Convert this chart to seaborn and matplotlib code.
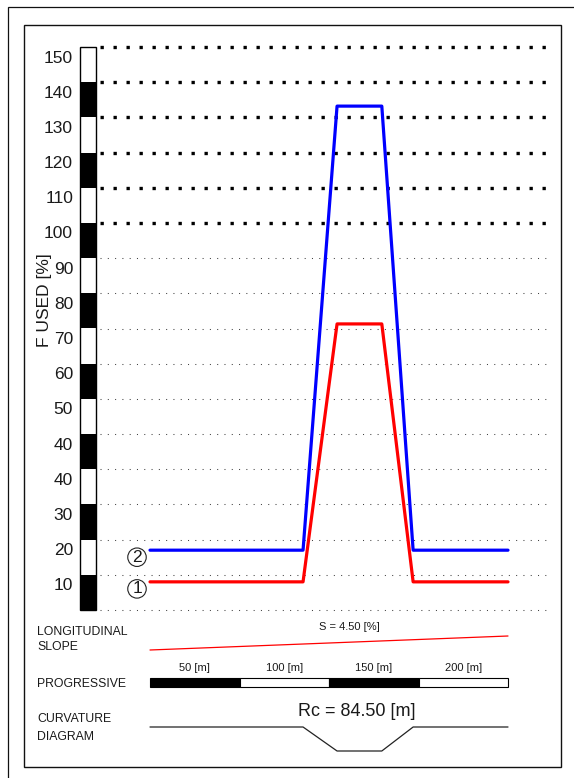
import matplotlib
matplotlib.use("Agg")
import matplotlib.pyplot as plt
import numpy as np
import pandas as pd
import seaborn as sns
from matplotlib.patches import Rectangle

# ---- data -------------------------------------------------------------
station_m = [0.0, 85.5, 104.5, 129.5, 147.0, 200.0]
f_used_case1 = [8.0, 8.0, 81.3, 81.3, 8.0, 8.0]
f_used_case2 = [17.0, 17.0, 143.2, 143.2, 17.0, 17.0]
case_names = ["1", "2"]

scale_tops = [160, 150, 140, 130, 120, 110, 100, 90, 80, 70, 60, 50, 40, 30, 20, 10]
scale_labels = ["150", "140", "130", "120", "110", "100", "90", "80",
                "70", "60", "50", "40", "40", "30", "20", "10"]
grid_levels = list(range(0, 170, 10))

slope_pct = 4.50
progressive_marks = [0, 50, 100, 150, 200]
progressive_labels = ["50 [m]", "100 [m]", "150 [m]", "200 [m]"]
curve_radius = 84.50
curve_station = [0.0, 85.5, 104.5, 129.5, 147.0, 200.0]
curve_on_arc = [0, 0, 1, 1, 0, 0]

# ---- style ------------------------------------------------------------
sns.set_style("white")
plt.rcParams["font.family"] = ["Liberation Sans", "DejaVu Sans"]
TXT = "#1a1a1a"

W, H = 574, 778
fig = plt.figure(figsize=(W / 100, H / 100), dpi=100)


def box(l, t, r, b):
    return [l / W, 1 - b / H, (r - l) / W, (b - t) / H]


def fx(px):
    return px / W


def fy(py):
    return 1 - py / H


# frames
fig.add_artist(Rectangle((fx(8), fy(800)), fx(600) - fx(8), fy(7) - fy(800),
                         transform=fig.transFigure, fill=False, lw=0.9, ec="#111"))
fig.add_artist(Rectangle((fx(24), fy(767)), fx(561) - fx(24), fy(25) - fy(767),
                         transform=fig.transFigure, fill=False, lw=1.0, ec="#111"))

# horizontal mapping shared by all panels: 150 px -> 0 m, 508 px -> 200 m
PPM = (508 - 150) / 200.0
XL = ((100 - 150) / PPM, (548 - 150) / PPM)

# ---- main F USED panel -------------------------------------------------
ax = fig.add_axes(box(100, 47, 548, 610))
ax.set_xlim(*XL)
ax.set_ylim(0, 160)
ax.axis("off")

for lv in grid_levels:
    if lv > 100:
        ax.axhline(lv, color="black", lw=2.4, ls=(0, (1, 2.9)),
                   dash_capstyle="butt", clip_on=False, zorder=1)
    else:
        ax.axhline(lv, color="#444444", lw=0.75, ls=(0, (1, 6)),
                   clip_on=False, zorder=1)

df = pd.DataFrame({
    "station": station_m * 2,
    "f_used": f_used_case1 + f_used_case2,
    "case": [case_names[0]] * len(station_m) + [case_names[1]] * len(station_m),
})
sns.lineplot(data=df, x="station", y="f_used", hue="case",
             palette={"1": "#ff0000", "2": "#0000ff"}, lw=2.3,
             legend=False, ax=ax, zorder=3, sort=False)
ax.axis("off")

# circled case numbers beside the start of each curve
circ_x = (137 - 150) / PPM
for name, level in zip(case_names, [f_used_case1[0], f_used_case2[0]]):
    ax.text(circ_x, level - 2.0, name, fontsize=12.5, ha="center", va="center",
            color=TXT, zorder=4,
            bbox=dict(boxstyle="circle,pad=0.1", fc="white", ec="#222222", lw=0.8))

# ---- striped scale bar -------------------------------------------------
axb = fig.add_axes(box(80, 47, 96, 610))
bottoms = [t - 10 for t in scale_tops]
colors = ["black" if (b // 10) % 2 == 0 else "white" for b in bottoms]
axb.bar([0] * len(bottoms), [10] * len(bottoms), bottom=bottoms, width=1.0,
        color=colors, edgecolor="none", lw=0)
axb.add_patch(Rectangle((-0.5, 0), 1.0, 160, fill=False, ec="black", lw=1.0,
                        clip_on=False))
axb.set_xlim(-0.5, 0.5)
axb.set_ylim(0, 160)
axb.set_xticks([])
axb.set_yticks([t - 2.7 for t in scale_tops], scale_labels)
axb.tick_params(axis="y", length=0, pad=5, labelsize=12.5, labelcolor=TXT)
for s in axb.spines.values():
    s.set_visible(False)

fig.text(fx(45), fy(300), "F USED [%]", rotation=90, ha="center", va="center",
         fontsize=12.5, color=TXT)

# ---- longitudinal slope ----------------------------------------------
axs = fig.add_axes(box(100, 620, 548, 660))
elev = [slope_pct / 100.0 * s for s in progressive_marks]
sns.lineplot(x=progressive_marks, y=elev, color="#ff0000", lw=0.9, ax=axs)
axs.set_xlim(*XL)
rise_px = (650 - 636) / elev[-1]
axs.set_ylim(-(660 - 650) / rise_px, (650 - 620) / rise_px)
axs.axis("off")
fig.text(fx(349), fy(627), f"S = {slope_pct:.2f} [%]", ha="center", va="center",
         fontsize=8, color=TXT)
fig.text(fx(37), fy(632), "LONGITUDINAL", ha="left", va="center", fontsize=8.8, color=TXT)
fig.text(fx(37), fy(647), "SLOPE", ha="left", va="center", fontsize=8.8, color=TXT)

# ---- progressive bar ---------------------------------------------------
axp = fig.add_axes(box(100, 660, 548, 695))
seg_l = progressive_marks[:-1]
seg_w = np.diff(progressive_marks)
axp.barh([0] * len(seg_l), seg_w, left=seg_l, height=1.0,
         color=["black" if i % 2 == 0 else "white" for i in range(len(seg_l))],
         edgecolor="black", lw=0.8)
axp.set_xlim(*XL)
axp.set_ylim(-0.5 - (695 - 687) / 9.0, 0.5 + (677 - 660) / 9.0)
axp.axis("off")
for l, w, lab in zip(seg_l, seg_w, progressive_labels):
    axp.text(l + w / 2, 0.5 + 9 / 9.0, lab, ha="center", va="center",
             fontsize=8, color=TXT)
fig.text(fx(37), fy(684), "PROGRESSIVE", ha="left", va="center", fontsize=8.8, color=TXT)

# ---- curvature diagram -------------------------------------------------
axc = fig.add_axes(box(100, 700, 548, 760))
kappa = [-k / curve_radius for k in curve_on_arc]
sns.lineplot(x=curve_station, y=kappa, color="#222222", lw=0.9, ax=axc, sort=False)
axc.set_xlim(*XL)
k_px = (751 - 727) / (1 / curve_radius)
axc.set_ylim(-(760 - 727) / k_px, (727 - 700) / k_px)
axc.axis("off")
fig.text(fx(357), fy(712), f"Rc = {curve_radius:.2f} [m]", ha="center", va="center",
         fontsize=13, color=TXT)
fig.text(fx(37), fy(719), "CURVATURE", ha="left", va="center", fontsize=8.8, color=TXT)
fig.text(fx(37), fy(737), "DIAGRAM", ha="left", va="center", fontsize=8.8, color=TXT)

fig.savefig("out.png", dpi=100, facecolor="white")
